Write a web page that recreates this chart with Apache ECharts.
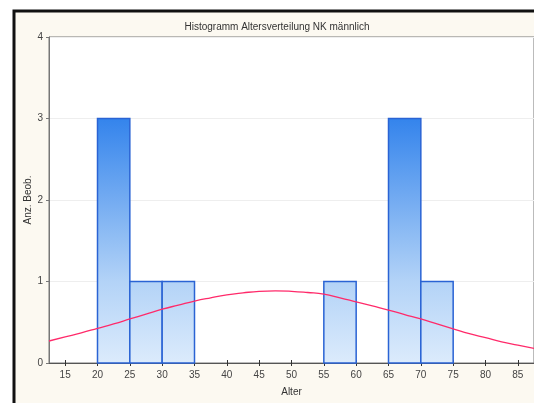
<!DOCTYPE html>
<html>
<head>
<meta charset="utf-8">
<script src="https://cdn.jsdelivr.net/npm/echarts@6/dist/echarts.min.js"></script>
<style>
html,body{margin:0;padding:0;background:#ffffff;}
#c{width:534px;height:403px;}
</style>
</head>
<body>
<div id="c"></div>
<script>
// Histogram bins: [from, to]
var binStarts = [20, 25, 30, 55, 65, 70];
var binEnds   = [25, 30, 35, 60, 70, 75];
var counts    = [3, 1, 1, 1, 3, 1];
// Fitted normal curve
var curveX = [12.5,15,17.5,20,22.5,25,27.5,30,32.5,35,37.5,40,42.5,45,47.5,50,52.5,55,57.5,60,62.5,65,67.5,70,72.5,75,77.5,80,82.5,85,87.5];
var curveY = [0.27,0.32,0.37,0.425,0.48,0.54,0.60,0.66,0.71,0.76,0.80,0.835,0.86,0.88,0.886,0.88,0.865,0.845,0.80,0.75,0.70,0.65,0.595,0.54,0.48,0.42,0.36,0.31,0.26,0.22,0.18];
var xTicks = [15,20,25,30,35,40,45,50,55,60,65,70,75,80,85];
var yTicks = [0,1,2,3,4];

var chart = echarts.init(document.getElementById('c'), null, {renderer:'canvas'});
var histData = binStarts.map(function(s,i){ return [s, binEnds[i], counts[i]]; });
var curveData = curveX.map(function(x,i){ return [x, curveY[i]]; });

var fillGrad = new echarts.graphic.LinearGradient(0, 37, 0, 363, [
  {offset:0, color:'#1f6fe6'},
  {offset:0.25, color:'#3484ec'},
  {offset:0.75, color:'#b3d3f7'},
  {offset:1, color:'#dcebfc'}
], true);

var font = 'Liberation Sans, Arial, sans-serif';
chart.setOption({
  animation:false,
  backgroundColor:'#ffffff',
  graphic:[{
    type:'rect', z:-10, silent:true,
    shape:{x:14, y:11, width:530, height:400},
    style:{fill:'#fcf9f1', stroke:'#111', lineWidth:3}
  }],
  title:{
    text:'Histogramm Altersverteilung NK männlich',
    left:272, top:17, textAlign:'center',
    textStyle:{fontFamily:font, fontSize:10, fontWeight:'normal', color:'#333'}
  },
  grid:{left:49, top:37, right:0, bottom:40, show:true, backgroundColor:'#ffffff', borderColor:'#777', borderWidth:1},
  xAxis:[{
    type:'value', min:12.5, max:87.5,
    name:'Alter', nameLocation:'middle', nameGap:24,
    nameTextStyle:{fontFamily:font, fontSize:10, color:'#333'},
    axisLine:{show:true, onZero:false, lineStyle:{color:'#333', width:1}},
    axisTick:{show:true, inside:true, length:3, customValues:xTicks, lineStyle:{color:'#333'}},
    axisLabel:{customValues:xTicks, fontFamily:font, fontSize:10, color:'#444', margin:7},
    splitLine:{show:false}
  },{
    type:'value', min:12.5, max:87.5, position:'top',
    axisLine:{show:true, lineStyle:{color:'#555'}},
    axisTick:{show:true, inside:true, length:3, customValues:xTicks, lineStyle:{color:'#333'}},
    axisLabel:{show:false},
    splitLine:{show:false}
  }],
  yAxis:{
    type:'value', min:0, max:4, interval:1,
    name:'Anz. Beob.', nameLocation:'middle', nameGap:16, nameMoveOverlap:false,
    nameTextStyle:{fontFamily:font, fontSize:10, color:'#333'},
    axisLine:{show:true, lineStyle:{color:'#777'}},
    axisTick:{show:true, length:3, lineStyle:{color:'#777'}},
    axisLabel:{fontFamily:font, fontSize:10, color:'#444', margin:6},
    splitLine:{show:true, lineStyle:{color:'#eeeeee', width:1}}
  },
  series:[{
    type:'custom',
    data:histData,
    renderItem:function(params, api){
      var p0 = api.coord([api.value(0), api.value(2)]);
      var p1 = api.coord([api.value(1), 0]);
      return {
        type:'rect',
        shape:{x:p0[0], y:p0[1], width:p1[0]-p0[0], height:p1[1]-p0[1]},
        style:{fill:fillGrad, stroke:'#2a63d4', lineWidth:1.5}
      };
    },
    encode:{x:[0,1], y:2},
    z:2
  },{
    type:'line',
    data:curveData,
    smooth:true,
    showSymbol:false,
    lineStyle:{color:'#ff2a6a', width:1.3},
    z:3
  }]
});
</script>
</body>
</html>
